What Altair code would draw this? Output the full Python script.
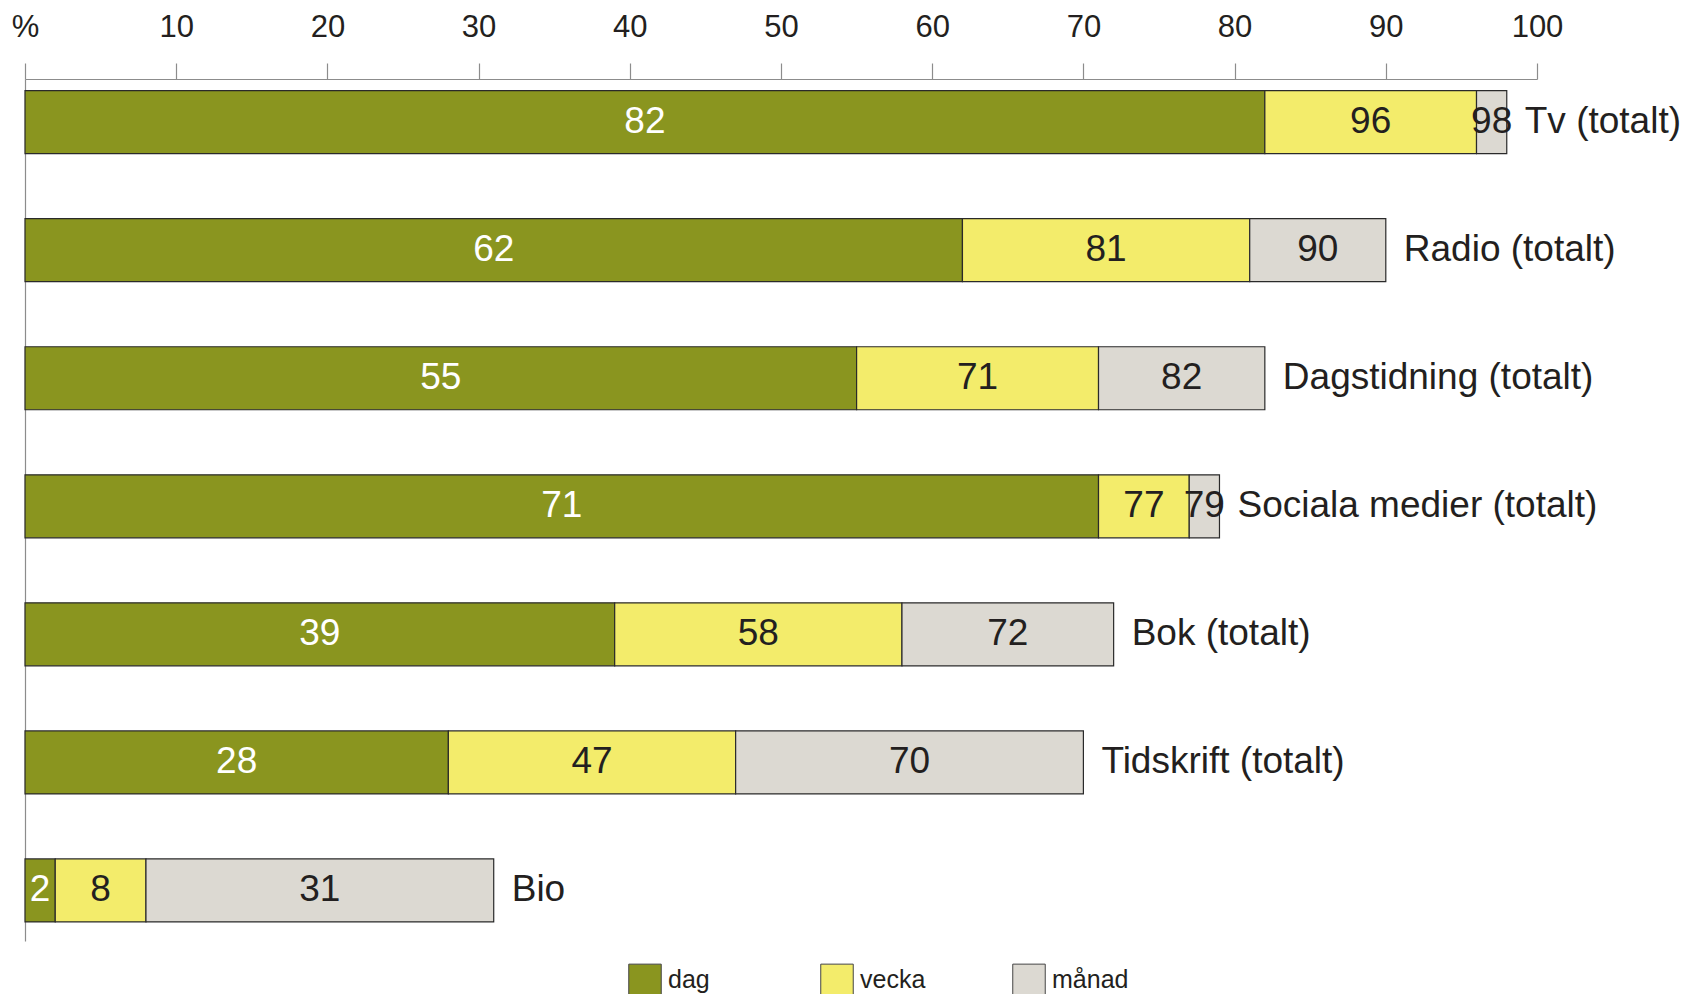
import altair as alt
import pandas as pd

categories = ["Tv (totalt)", "Radio (totalt)", "Dagstidning (totalt)",
              "Sociala medier (totalt)", "Bok (totalt)", "Tidskrift (totalt)", "Bio"]
periods = ["dag", "vecka", "månad"]
dag = [82, 62, 55, 71, 39, 28, 2]
vecka = [96, 81, 71, 77, 58, 47, 8]
manad = [98, 90, 82, 79, 72, 70, 31]
colors = ["#8a951f", "#f3ec6b", "#dcd9d2"]
ticks = list(range(0, 101, 10))

rows = []
for i, c in enumerate(categories):
    cum = [dag[i], vecka[i], manad[i]]
    prev = 0
    for p, v in zip(periods, cum):
        rows.append({"kategori": c, "period": p, "start": prev, "end": v, "label": str(v)})
        prev = v
df = pd.DataFrame(rows)
ends = pd.DataFrame({"kategori": categories, "end": manad})

font = "Liberation Sans"
txt = "#231f20"
axis_gray = "#8c8c8c"

y = alt.Y("kategori:N", sort=categories,
          scale=alt.Scale(paddingInner=0.508, paddingOuter=0.12, align=0.38),
          axis=alt.Axis(title=None, labels=False, ticks=False, domain=True,
                        domainColor=axis_gray, domainWidth=1.2, grid=False))
x = alt.X("start:Q", scale=alt.Scale(domain=[0, 100], nice=False),
          axis=alt.Axis(orient="top", values=ticks, title=None,
                        labelExpr="datum.value == 0 ? '%' : datum.label",
                        tickSize=16, labelPadding=20, labelFontSize=31,
                        labelColor=txt, labelFont=font, domainColor=axis_gray,
                        tickColor=axis_gray, domainWidth=1.2, tickWidth=1.2,
                        grid=False, labelFlush=False))

bars = alt.Chart(df).mark_bar(stroke="#2a2a2a", strokeWidth=1.2).encode(
    x=x,
    x2="end:Q",
    y=y,
    color=alt.Color("period:N", sort=periods,
                    scale=alt.Scale(domain=periods, range=colors),
                    legend=alt.Legend(orient="none", legendX=603, legendY=884,
                                      direction="horizontal", columns=3,
                                      gridAlign="all", columnPadding=73,
                                      symbolType="square", symbolSize=1056,
                                      symbolStrokeColor="#444", symbolStrokeWidth=1,
                                      labelFontSize=25, labelFont=font,
                                      labelColor=txt, labelOffset=6,
                                      title=None, padding=0)),
)

seg_text = alt.Chart(df).transform_calculate(
    mid="(datum.start + datum.end) / 2"
).mark_text(fontSize=37, font=font, baseline="middle", align="center").encode(
    x="mid:Q",
    y=y,
    text="label:N",
    color=alt.condition("datum.period == 'dag'", alt.value("white"), alt.value(txt)),
)

cat_text = alt.Chart(ends).mark_text(align="left", dx=18, fontSize=37, font=font,
                                     baseline="middle", color=txt).encode(
    x="end:Q",
    y=y,
    text="kategori:N",
)

chart = alt.layer(bars, seg_text, cat_text).properties(
    width=1512, height=862,
    padding={"left": 3, "top": 3, "right": 0, "bottom": 0},
).configure_view(stroke=None)

chart.save("out.html", embed_options={"renderer": "svg", "actions": False})
